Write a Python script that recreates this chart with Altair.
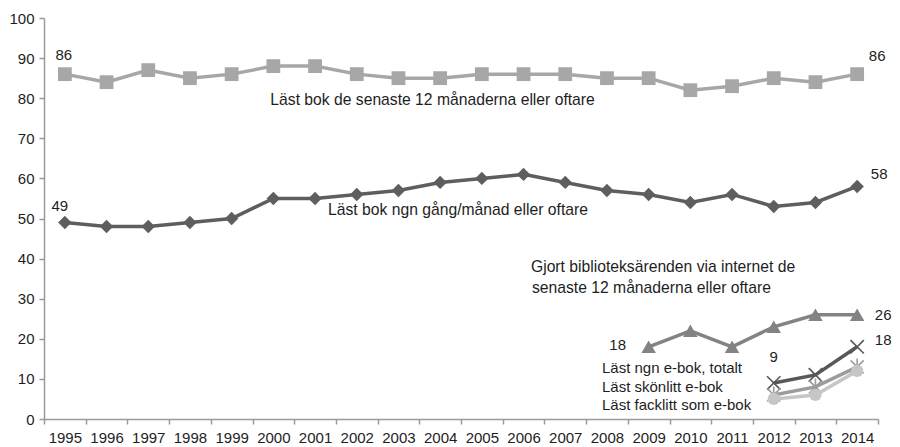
import altair as alt
import pandas as pd

# ---- data ----
years = list(range(1995, 2015))
bok_12man = [86, 84, 87, 85, 86, 88, 88, 86, 85, 85, 86, 86, 86, 85, 85, 82, 83, 85, 84, 86]
bok_manad = [49, 48, 48, 49, 50, 55, 55, 56, 57, 59, 60, 61, 59, 57, 56, 54, 56, 53, 54, 58]
bibl_years = [2009, 2010, 2011, 2012, 2013, 2014]
bibl_vals = [18, 22, 18, 23, 26, 26]
ebok_years = [2012, 2013, 2014]
ebok_tot = [9, 11, 18]
ebok_skon = [6, 8, 13]
ebok_fack = [5, 6, 12]

y_ticks = list(range(0, 101, 10))

# value labels: (text, year, value, dx, dy)
value_labels = [
    ("86", 1995, 86, -1, -19),
    ("49", 1995, 49, -5, -17),
    ("86", 2014, 86, 20, -18),
    ("58", 2014, 58, 22, -12),
    ("26", 2014, 26, 26, 0),
    ("18", 2014, 18, 26, -7),
    ("18", 2009, 18, -31, -2),
    ("9", 2012, 9, 0, -26),
]
# series annotations: (text, year, value, dx, font size)
series_labels = [
    ("Läst bok de senaste 12 månaderna eller oftare", 2000, 79.5, -3, 15.7),
    ("Läst bok ngn gång/månad eller oftare", 2001, 52, 13, 15.7),
    ("Gjort biblioteksärenden via internet de", 2008, 38, -76, 15.7),
    ("senaste 12 månaderna eller oftare", 2008, 32.75, -75, 15.7),
    ("Läst ngn e-bok, totalt", 2008, 12.75, -5, 15),
    ("Läst skönlitt e-bok", 2008, 8, -5, 15),
    ("Läst facklitt som e-bok", 2008, 3.5, -5, 15),
]

FONT = "Liberation Sans"
FS = 15
TXT = "#1e1e1e"

x_enc = alt.X(
    "year:O",
    bandPosition=0.5,
    scale=alt.Scale(type="band", domain=years, paddingInner=0, paddingOuter=0),
    axis=alt.Axis(title=None, labelAngle=0, tickBand="extent", labelPadding=6),
)
y_enc = alt.Y(
    "value:Q",
    scale=alt.Scale(domain=[0, 100], nice=False, zero=True),
    axis=alt.Axis(title=None, values=y_ticks, grid=False, labelPadding=5),
)

X_PATH = "M-1,-1L1,1M-1,1L1,-1"
STAR_PATH = "M-1,-1L1,1M-1,1L1,-1M0,-1.3L0,1.3"

series = [
    # name, years, values, color, shape, size, filled
    ("bok12", years, bok_12man, "#a7a7a9", "square", 190, True),
    ("bokman", years, bok_manad, "#5e5e60", "diamond", 180, True),
    ("bibl", bibl_years, bibl_vals, "#838385", "triangle-up", 210, True),
    ("ebok", ebok_years, ebok_tot, "#58585a", X_PATH, 180, False),
    ("skon", ebok_years, ebok_skon, "#9c9c9e", STAR_PATH, 170, False),
    ("fack", ebok_years, ebok_fack, "#c6c6c8", "circle", 150, True),
]

layers = []
for name, yrs, vals, color, shape, size, filled in series:
    df = pd.DataFrame({"year": yrs, "value": vals})
    base = alt.Chart(df).encode(x=x_enc, y=y_enc)
    layers.append(base.mark_line(color=color, strokeWidth=3.5))
    if filled:
        layers.append(base.mark_point(shape=shape, size=size, filled=True, color=color, opacity=1))
    else:
        layers.append(base.mark_point(shape=shape, size=size, filled=False, color=color,
                                      strokeWidth=1.6, opacity=1))

for text, yr, val, dx, dy in value_labels:
    df = pd.DataFrame({"year": [yr], "value": [val], "t": [text]})
    layers.append(
        alt.Chart(df).mark_text(dx=dx, dy=dy, align="center", baseline="middle",
                                font=FONT, fontSize=FS, color=TXT)
        .encode(x=x_enc, y=y_enc, text="t:N")
    )

for text, yr, val, dx, fs in series_labels:
    df = pd.DataFrame({"year": [yr], "value": [val], "t": [text]})
    layers.append(
        alt.Chart(df).mark_text(dx=dx, align="left", baseline="middle",
                                font=FONT, fontSize=fs, color=TXT)
        .encode(x=x_enc, y=y_enc, text="t:N")
    )

chart = (
    alt.layer(*layers)
    .properties(
        width=834,
        height=401,
        autosize=alt.AutoSizeParams(type="none"),
        padding={"left": 36, "top": 10, "right": 14, "bottom": 28},
        background="white",
    )
    .configure_view(stroke=None)
    .configure_axis(
        domainColor="#9a9a9a",
        tickColor="#9a9a9a",
        domainWidth=1.5,
        tickWidth=1.5,
        tickSize=5,
        labelFont=FONT,
        labelFontSize=FS,
        labelColor=TXT,
    )
)

chart.save("out.html", embed_options={"renderer": "svg", "actions": False})
